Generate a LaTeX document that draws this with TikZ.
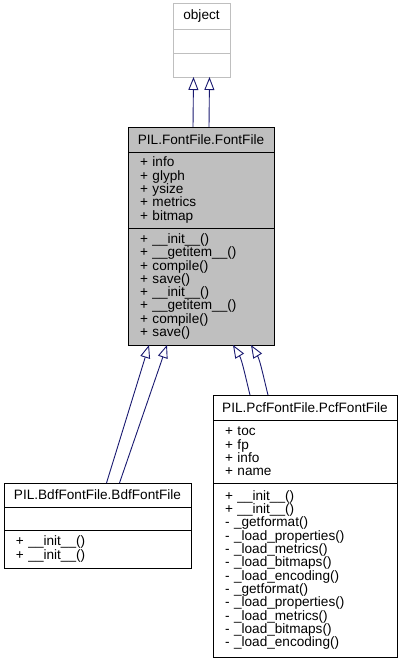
\documentclass[tikz,border=0pt]{standalone}
\usepackage{fontspec}
\setmainfont{Liberation Sans}
\usetikzlibrary{positioning,arrows.meta}
\definecolor{edgeblue}{HTML}{191970}
\definecolor{boxgray}{HTML}{BFBFBF}
\begin{document}
\begin{tikzpicture}
    [x=1pt,y=-1pt,line width=0.9pt,
     font=\fontsize{13.6}{13.3}\selectfont,
     title/.style={draw,inner sep=0pt,outer sep=0pt,align=center},
     part/.style={draw,inner xsep=12pt,inner ysep=0pt,outer sep=0pt,align=left},
     inherit/.style={edgeblue,-{Triangle[open,length=13pt,width=10pt]}}]
    \useasboundingbox (0,0) rectangle (403,660);
    % base class
    \node[title,draw=boxgray,minimum width=57pt,minimum height=26pt,anchor=north west]
      (object) at (173,3) {object};
    \node[part,draw=boxgray,text width=33pt,minimum height=24pt,below=0pt of object] (objectattr) {};
    \node[part,draw=boxgray,text width=33pt,minimum height=24pt,below=0pt of objectattr] (objectops) {};
    % FontFile
    \node[title,fill=boxgray,minimum width=146pt,minimum height=25pt,anchor=north west]
      (fontfile) at (128,127) {PIL.FontFile.FontFile};
    \node[part,fill=boxgray,text width=122pt,minimum height=76pt,below=0pt of fontfile]
      (fontfileattr) {+ info\\+ glyph\\+ ysize\\+ metrics\\+ bitmap};
    \node[part,fill=boxgray,text width=122pt,minimum height=117pt,below=0pt of fontfileattr]
      (fontfileops) {+ \_\_init\_\_()\\+ \_\_getitem\_\_()\\+ compile()\\+ save()\\
        + \_\_init\_\_()\\+ \_\_getitem\_\_()\\+ compile()\\+ save()};
    % BdfFontFile
    \node[title,minimum width=187pt,minimum height=24pt,anchor=north west]
      (bdf) at (4,483) {PIL.BdfFontFile.BdfFontFile};
    \node[part,text width=163pt,minimum height=23pt,below=0pt of bdf] (bdfattr) {};
    \node[part,text width=163pt,minimum height=38pt,below=0pt of bdfattr]
      (bdfops) {+ \_\_init\_\_()\\+ \_\_init\_\_()};
    % PcfFontFile
    \node[title,minimum width=184pt,minimum height=25pt,anchor=north west]
      (pcf) at (213,395) {PIL.PcfFontFile.PcfFontFile};
    \node[part,text width=160pt,minimum height=63pt,below=0pt of pcf]
      (pcfattr) {+ toc\\+ fp\\+ info\\+ name};
    \node[part,text width=160pt,minimum height=174pt,below=0pt of pcfattr]
      (pcfops) {+ \_\_init\_\_()\\+ \_\_init\_\_()\\- \_getformat()\\- \_load\_properties()\\
        - \_load\_metrics()\\- \_load\_bitmaps()\\- \_load\_encoding()\\- \_getformat()\\
        - \_load\_properties()\\- \_load\_metrics()\\- \_load\_bitmaps()\\- \_load\_encoding()};
    % inheritance
    \draw[inherit] ([xshift=-8pt]fontfile.north) -- ([xshift=-8pt]objectops.south);
    \draw[inherit] ([xshift=8pt]fontfile.north) -- ([xshift=8pt]objectops.south);
    \draw[inherit] ([xshift=9pt]bdf.north) -- ([xshift=-52pt]fontfileops.south);
    \draw[inherit] ([xshift=22pt]bdf.north) -- ([xshift=-34pt]fontfileops.south);
    \draw[inherit] ([xshift=-55pt]pcf.north) .. controls +(-4,-16) and +(9,15) .. ([xshift=32pt]fontfileops.south);
    \draw[inherit] ([xshift=-37pt]pcf.north) .. controls +(-4,-16) and +(9,15) .. ([xshift=50pt]fontfileops.south);
\end{tikzpicture}
\end{document}
